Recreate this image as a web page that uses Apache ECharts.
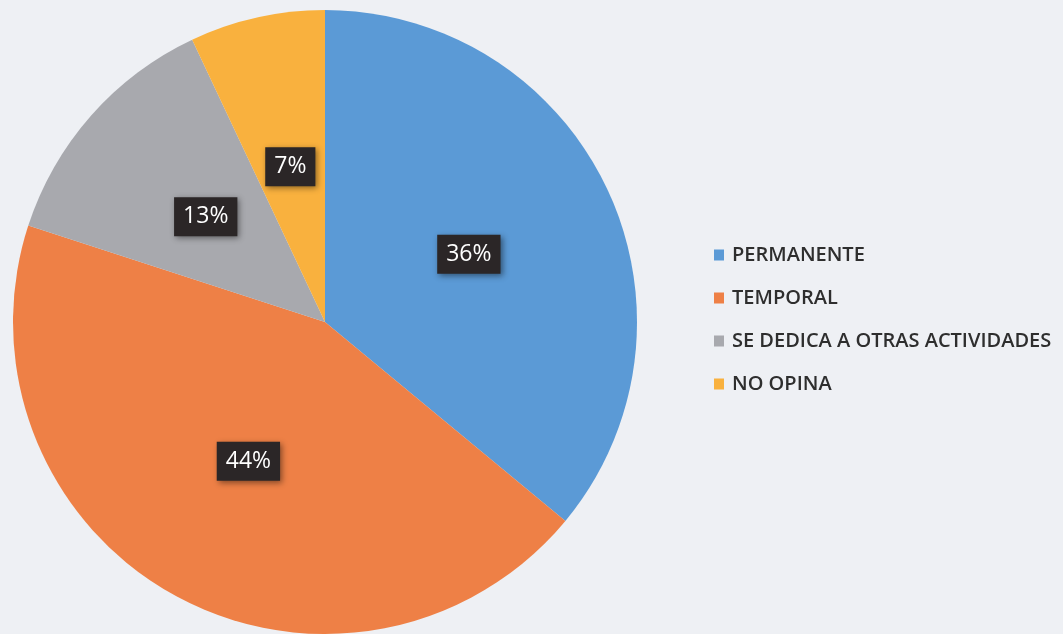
<!DOCTYPE html>
<html>
<head>
<meta charset="utf-8">
<script src="https://cdn.jsdelivr.net/npm/echarts@6/dist/echarts.min.js"></script>
<style>
html,body{margin:0;padding:0;background:#eef0f4;}
#chart{width:1063px;height:634px;}
</style>
</head>
<body>
<div id="chart"></div>
<script>
var categories = ['PERMANENTE', 'TEMPORAL', 'SE DEDICA A OTRAS ACTIVIDADES', 'NO OPINA'];
var values = [36, 44, 13, 7];
var colors = ['#5b9ad6', '#ee8046', '#a8a9ae', '#f9b13e'];

var chart = echarts.init(document.getElementById('chart'));
chart.setOption({
  backgroundColor: '#eef0f4',
  animation: false,
  color: colors,
  legend: {
    orient: 'vertical',
    left: 714,
    top: 245,
    padding: 0,
    icon: 'rect',
    itemWidth: 10,
    itemHeight: 11,
    itemGap: 23,
    data: categories,
    textStyle: {
      fontFamily: 'Open Sans',
      fontSize: 20,
      fontWeight: 600,
      lineHeight: 20,
      color: '#2e2e2e',
      padding: [0, 0, 0, 3]
    }
  },
  series: [{
    type: 'pie',
    center: [325, 322],
    radius: 312,
    startAngle: 90,
    clockwise: true,
    data: categories.map(function (c, i) { return { name: c, value: values[i] }; }),
    label: {
      show: true,
      position: 'inside',
      formatter: '{c}%',
      fontFamily: 'Open Sans',
      fontSize: 23,
      color: '#ffffff',
      backgroundColor: '#2b2627',
      padding: [9, 9, 7, 9],
      shadowColor: 'rgba(0,0,0,0.45)',
      shadowBlur: 6,
      shadowOffsetX: 2,
      shadowOffsetY: 2
    },
    labelLine: { show: false },
    itemStyle: { borderWidth: 0 },
    emphasis: { disabled: true }
  }]
});
</script>
</body>
</html>
